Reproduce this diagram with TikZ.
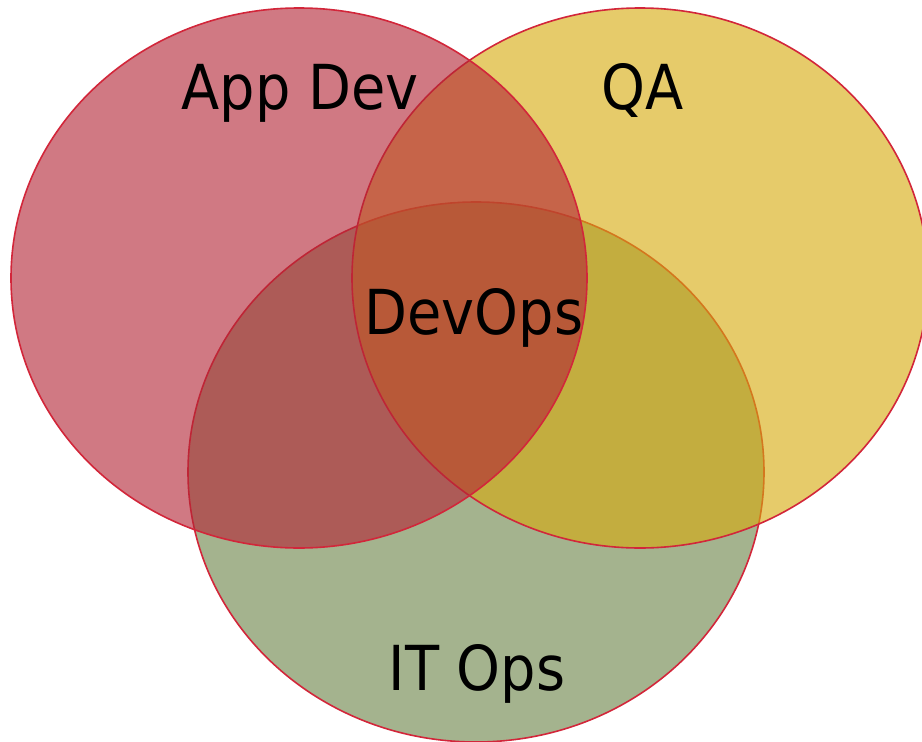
\documentclass[tikz,border=0pt]{standalone}
\usepackage{fontspec}
\newfontfamily\vennfont{DejaVu Sans Condensed}
\definecolor{appdevc}{RGB}{179,37,53}
\definecolor{qac}{RGB}{214,170,13}
\definecolor{itopsc}{RGB}{107,131,71}
\definecolor{rimc}{RGB}{210,38,58}
\tikzset{
  ring/.style={draw=rimc, line width=1.6pt, fill opacity=0.615},
  lbl/.style={anchor=base, inner sep=0pt, text=black,
    font=\vennfont\fontsize{62}{62}\selectfont}
}
\begin{document}
\begin{tikzpicture}[x=1pt, y=-1pt, line join=round, line cap=round]
  \def \rx{288} % ban kinh ngang
  \def \ry{270}
  \useasboundingbox (0,0) rectangle (922,742);
  \coordinate (L) at (299,278);
  \coordinate (R) at (640,278);
  \coordinate (B) at (476,472);
  \draw[ring, fill=itopsc] (B) ellipse [x radius=\rx, y radius=\ry];
  \draw[ring, fill=qac] (R) ellipse [x radius=\rx, y radius=\ry];
  \draw[ring, fill=appdevc] (L) ellipse [x radius=\rx, y radius=\ry];
  \node[lbl] (appdev) at (300,109) {App Dev};
  \node[lbl] (qa) at (643,109) {QA};
  \node[lbl] (devops) at (474,334) {DevOps};
  \node[lbl] (itops) at (477,690) {IT Ops};
\end{tikzpicture}
\end{document}
